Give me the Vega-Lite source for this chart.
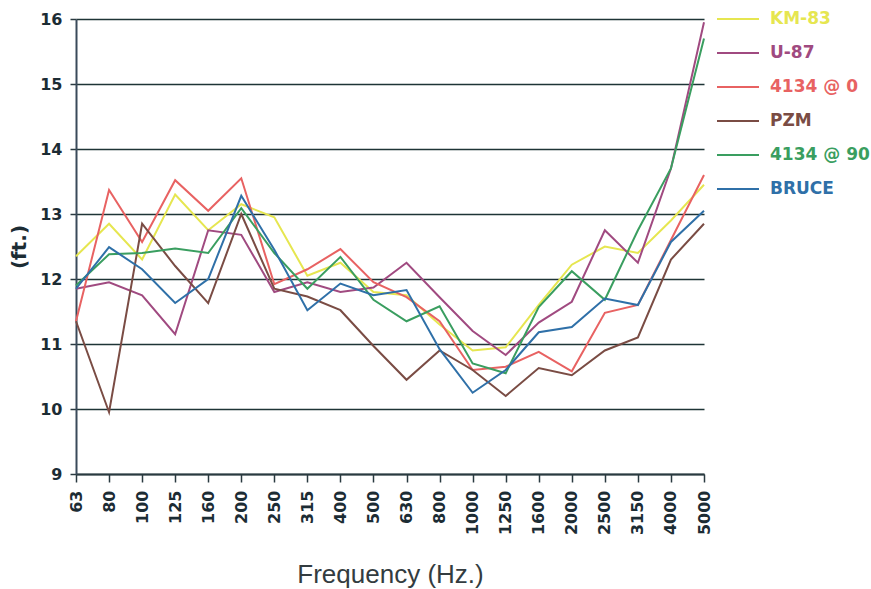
{
  "$schema": "https://vega.github.io/schema/vega-lite/v6.json",
  "autosize": {"type": "none"},
  "padding": {"left": 76, "top": 19, "right": 167, "bottom": 115},
  "width": 628,
  "height": 455,
  "background": "white",
  "data": {
    "values": [
      {"f": "63", "s": "KM-83", "v": 12.35}, {"f": "80", "s": "KM-83", "v": 12.85}, {"f": "100", "s": "KM-83", "v": 12.3}, {"f": "125", "s": "KM-83", "v": 13.3}, {"f": "160", "s": "KM-83", "v": 12.75}, {"f": "200", "s": "KM-83", "v": 13.15}, {"f": "250", "s": "KM-83", "v": 12.95}, {"f": "315", "s": "KM-83", "v": 12.05}, {"f": "400", "s": "KM-83", "v": 12.25}, {"f": "500", "s": "KM-83", "v": 11.8}, {"f": "630", "s": "KM-83", "v": 11.75}, {"f": "800", "s": "KM-83", "v": 11.3}, {"f": "1000", "s": "KM-83", "v": 10.9}, {"f": "1250", "s": "KM-83", "v": 10.95}, {"f": "1600", "s": "KM-83", "v": 11.6}, {"f": "2000", "s": "KM-83", "v": 12.22}, {"f": "2500", "s": "KM-83", "v": 12.5}, {"f": "3150", "s": "KM-83", "v": 12.4}, {"f": "4000", "s": "KM-83", "v": 12.9}, {"f": "5000", "s": "KM-83", "v": 13.45},
      {"f": "63", "s": "U-87", "v": 11.85}, {"f": "80", "s": "U-87", "v": 11.95}, {"f": "100", "s": "U-87", "v": 11.75}, {"f": "125", "s": "U-87", "v": 11.15}, {"f": "160", "s": "U-87", "v": 12.75}, {"f": "200", "s": "U-87", "v": 12.68}, {"f": "250", "s": "U-87", "v": 11.8}, {"f": "315", "s": "U-87", "v": 11.95}, {"f": "400", "s": "U-87", "v": 11.8}, {"f": "500", "s": "U-87", "v": 11.87}, {"f": "630", "s": "U-87", "v": 12.25}, {"f": "800", "s": "U-87", "v": 11.72}, {"f": "1000", "s": "U-87", "v": 11.2}, {"f": "1250", "s": "U-87", "v": 10.83}, {"f": "1600", "s": "U-87", "v": 11.33}, {"f": "2000", "s": "U-87", "v": 11.65}, {"f": "2500", "s": "U-87", "v": 12.75}, {"f": "3150", "s": "U-87", "v": 12.25}, {"f": "4000", "s": "U-87", "v": 13.7}, {"f": "5000", "s": "U-87", "v": 15.95},
      {"f": "63", "s": "4134 @ 0", "v": 11.35}, {"f": "80", "s": "4134 @ 0", "v": 13.37}, {"f": "100", "s": "4134 @ 0", "v": 12.57}, {"f": "125", "s": "4134 @ 0", "v": 13.52}, {"f": "160", "s": "4134 @ 0", "v": 13.05}, {"f": "200", "s": "4134 @ 0", "v": 13.55}, {"f": "250", "s": "4134 @ 0", "v": 11.92}, {"f": "315", "s": "4134 @ 0", "v": 12.15}, {"f": "400", "s": "4134 @ 0", "v": 12.46}, {"f": "500", "s": "4134 @ 0", "v": 11.95}, {"f": "630", "s": "4134 @ 0", "v": 11.72}, {"f": "800", "s": "4134 @ 0", "v": 11.35}, {"f": "1000", "s": "4134 @ 0", "v": 10.6}, {"f": "1250", "s": "4134 @ 0", "v": 10.65}, {"f": "1600", "s": "4134 @ 0", "v": 10.88}, {"f": "2000", "s": "4134 @ 0", "v": 10.58}, {"f": "2500", "s": "4134 @ 0", "v": 11.48}, {"f": "3150", "s": "4134 @ 0", "v": 11.6}, {"f": "4000", "s": "4134 @ 0", "v": 12.6}, {"f": "5000", "s": "4134 @ 0", "v": 13.6},
      {"f": "63", "s": "PZM", "v": 11.35}, {"f": "80", "s": "PZM", "v": 9.95}, {"f": "100", "s": "PZM", "v": 12.85}, {"f": "125", "s": "PZM", "v": 12.2}, {"f": "160", "s": "PZM", "v": 11.63}, {"f": "200", "s": "PZM", "v": 13.0}, {"f": "250", "s": "PZM", "v": 11.85}, {"f": "315", "s": "PZM", "v": 11.73}, {"f": "400", "s": "PZM", "v": 11.52}, {"f": "500", "s": "PZM", "v": 10.97}, {"f": "630", "s": "PZM", "v": 10.45}, {"f": "800", "s": "PZM", "v": 10.9}, {"f": "1000", "s": "PZM", "v": 10.6}, {"f": "1250", "s": "PZM", "v": 10.2}, {"f": "1600", "s": "PZM", "v": 10.63}, {"f": "2000", "s": "PZM", "v": 10.52}, {"f": "2500", "s": "PZM", "v": 10.9}, {"f": "3150", "s": "PZM", "v": 11.1}, {"f": "4000", "s": "PZM", "v": 12.3}, {"f": "5000", "s": "PZM", "v": 12.85},
      {"f": "63", "s": "4134 @ 90", "v": 11.9}, {"f": "80", "s": "4134 @ 90", "v": 12.38}, {"f": "100", "s": "4134 @ 90", "v": 12.4}, {"f": "125", "s": "4134 @ 90", "v": 12.47}, {"f": "160", "s": "4134 @ 90", "v": 12.4}, {"f": "200", "s": "4134 @ 90", "v": 13.09}, {"f": "250", "s": "4134 @ 90", "v": 12.4}, {"f": "315", "s": "4134 @ 90", "v": 11.85}, {"f": "400", "s": "4134 @ 90", "v": 12.34}, {"f": "500", "s": "4134 @ 90", "v": 11.68}, {"f": "630", "s": "4134 @ 90", "v": 11.35}, {"f": "800", "s": "4134 @ 90", "v": 11.58}, {"f": "1000", "s": "4134 @ 90", "v": 10.7}, {"f": "1250", "s": "4134 @ 90", "v": 10.55}, {"f": "1600", "s": "4134 @ 90", "v": 11.57}, {"f": "2000", "s": "4134 @ 90", "v": 12.12}, {"f": "2500", "s": "4134 @ 90", "v": 11.68}, {"f": "3150", "s": "4134 @ 90", "v": 12.75}, {"f": "4000", "s": "4134 @ 90", "v": 13.7}, {"f": "5000", "s": "4134 @ 90", "v": 15.7},
      {"f": "63", "s": "BRUCE", "v": 11.85}, {"f": "80", "s": "BRUCE", "v": 12.49}, {"f": "100", "s": "BRUCE", "v": 12.15}, {"f": "125", "s": "BRUCE", "v": 11.63}, {"f": "160", "s": "BRUCE", "v": 12.0}, {"f": "200", "s": "BRUCE", "v": 13.28}, {"f": "250", "s": "BRUCE", "v": 12.45}, {"f": "315", "s": "BRUCE", "v": 11.52}, {"f": "400", "s": "BRUCE", "v": 11.93}, {"f": "500", "s": "BRUCE", "v": 11.75}, {"f": "630", "s": "BRUCE", "v": 11.83}, {"f": "800", "s": "BRUCE", "v": 10.92}, {"f": "1000", "s": "BRUCE", "v": 10.25}, {"f": "1250", "s": "BRUCE", "v": 10.6}, {"f": "1600", "s": "BRUCE", "v": 11.18}, {"f": "2000", "s": "BRUCE", "v": 11.26}, {"f": "2500", "s": "BRUCE", "v": 11.7}, {"f": "3150", "s": "BRUCE", "v": 11.6}, {"f": "4000", "s": "BRUCE", "v": 12.57}, {"f": "5000", "s": "BRUCE", "v": 13.05}
    ]
  },
  "config": {
    "view": {"stroke": null},
    "font": "DejaVu Sans"
  },
  "mark": {"type": "line", "strokeWidth": 2, "strokeJoin": "miter"},
  "encoding": {
    "x": {
      "field": "f", "type": "ordinal", "sort": null,
      "scale": {"type": "point", "padding": 0},
      "axis": {
        "title": "Frequency (Hz.)", "titleFont": "Liberation Sans", "titleFontSize": 26, "titleFontWeight": "normal", "titleColor": "#333c40", "titlePadding": 27,
        "labelAngle": -90, "labelFont": "DejaVu Sans", "labelFontSize": 16, "labelFontWeight": "bold", "labelColor": "#1c2c34", "labelPadding": 8,
        "tickSize": 8, "tickColor": "#2a3a40", "tickWidth": 1.5,
        "domainColor": "#2a3a40", "domainWidth": 2, "grid": false
      }
    },
    "y": {
      "field": "v", "type": "quantitative",
      "scale": {"domain": [9, 16], "nice": false, "zero": false},
      "axis": {
        "title": "(ft.)", "titleFont": "DejaVu Sans", "titleFontSize": 20, "titleFontWeight": "bold", "titleColor": "#1c2c34", "titlePadding": 10,
        "values": [9, 10, 11, 12, 13, 14, 15, 16],
        "labelFont": "DejaVu Sans", "labelFontSize": 16, "labelFontWeight": "bold", "labelColor": "#1c2c34", "labelPadding": 8,
        "tickSize": 6, "tickColor": "#2a3a40", "tickWidth": 1.5,
        "domainColor": "#3a4a5a", "domainWidth": 2,
        "grid": true, "gridColor": "#1e3436", "gridWidth": 1.6
      }
    },
    "color": {
      "field": "s", "type": "nominal",
      "scale": {
        "domain": ["KM-83", "U-87", "4134 @ 0", "PZM", "4134 @ 90", "BRUCE"],
        "range": ["#e6e650", "#a04a80", "#e86262", "#7a4c44", "#3a9e60", "#2f70a8"]
      },
      "legend": {
        "title": null, "orient": "none", "legendX": 640, "legendY": -22,
        "symbolType": "stroke", "symbolSize": 1764, "symbolStrokeWidth": 2,
        "labelFont": "DejaVu Sans", "labelFontSize": 17, "labelFontWeight": "bold", "labelOffset": 10,
        "rowPadding": 4,
        "encode": {"labels": {"update": {"fill": {"scale": "color", "field": "value"}}}}
      }
    }
  }
}
